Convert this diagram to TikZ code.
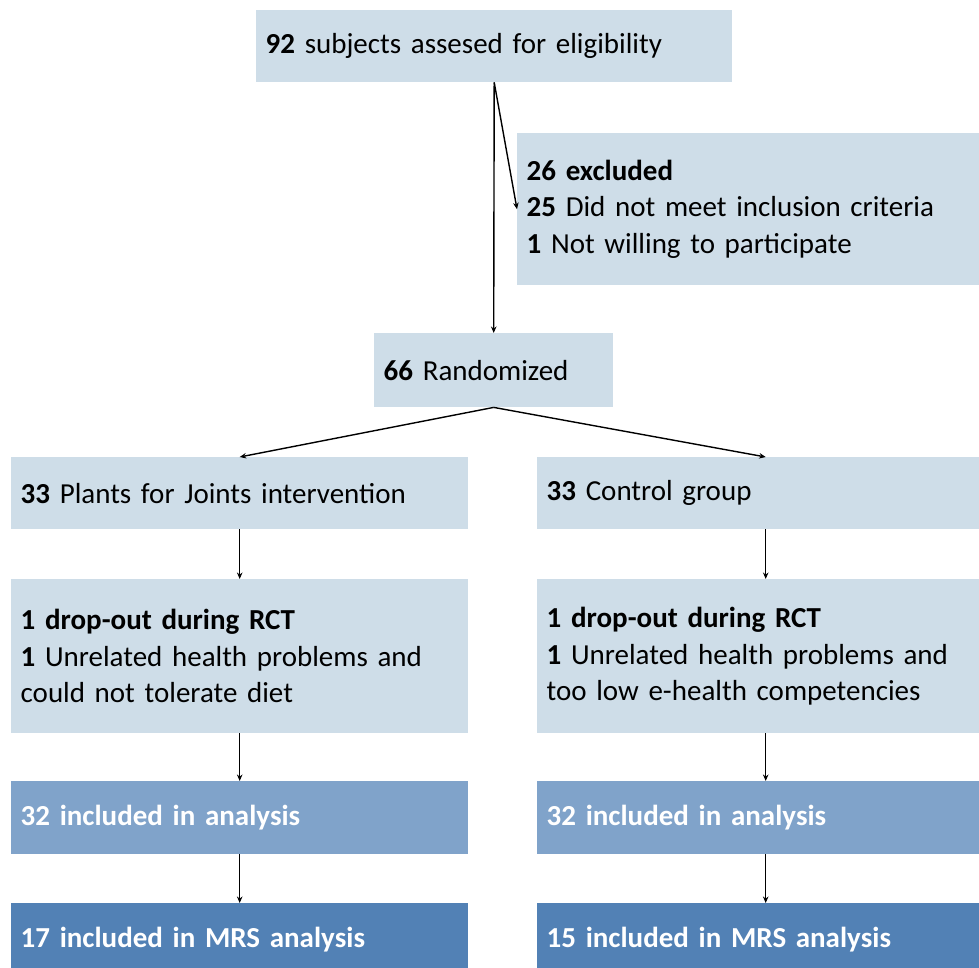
\documentclass[tikz,border=0pt]{standalone}
\usepackage{fontspec}
\setmainfont{Carlito}
\usepackage{tikz}
\usetikzlibrary{arrows.meta,positioning}
\definecolor{FlowLight}{HTML}{CEDDE8}
\definecolor{FlowMid}{HTML}{80A3CA}
\definecolor{FlowDark}{HTML}{5281B5}
\newcommand{\flowfont}{\fontsize{29}{36.5}\selectfont}
\tikzset{%
  lightbox/.style={fill=FlowLight,anchor=north west,align=left,
    inner xsep=9.5pt,inner ysep=0pt,font=\flowfont},
  midbox/.style={lightbox,fill=FlowMid,text=white,font=\flowfont\bfseries},
  darkbox/.style={lightbox,fill=FlowDark,text=white,font=\flowfont\bfseries},
  flow/.style={-{Stealth[length=6.5pt,width=5.5pt]},line width=1.4pt,black}
}
\begin{document}
\begin{tikzpicture}[x=1pt,y=-1pt]
      \useasboundingbox (0,0) rectangle (979,968);
      \clip (0,0) rectangle (979,968);
      \node[lightbox, text width=457pt, minimum height=72pt] (screen) at (256,10) {\textbf{92} subjects assesed for eligibility};
      \node[lightbox, text width=443pt, minimum height=152pt] (excl) at (517,133) {\textbf{26 excluded}\\\textbf{25} Did not meet inclusion criteria\\\textbf{1} Not willing to participate};
      \node[lightbox, text width=220pt, minimum height=74pt] (rand) at (374,333) {\textbf{66} Randomized};
      \node[lightbox, text width=438pt, minimum height=72pt] (armL) at (11,457) {\textbf{33} Plants for Joints intervention};
      \node[lightbox, text width=438pt, minimum height=72pt] (armR) at (537,457) {\textbf{33} Control group};
      \node[lightbox, text width=438pt, minimum height=154pt] (dropL) at (11,579) {\textbf{1 drop-out during RCT}\\\textbf{1} Unrelated health problems and\\could not tolerate diet};
      \node[lightbox, text width=438pt, minimum height=154pt] (dropR) at (537,579) {\textbf{1 drop-out during RCT}\\\textbf{1} Unrelated health problems and\\too low e-health competencies};
      \node[midbox, text width=438pt, minimum height=73pt] (anaL) at (11,781) {32 included in analysis};
      \node[midbox, text width=438pt, minimum height=73pt] (anaR) at (537,781) {32 included in analysis};
      \node[darkbox, text width=438pt, minimum height=73pt] (mrsL) at (11,903) {17 included in MRS analysis};
      \node[darkbox, text width=438pt, minimum height=73pt] (mrsR) at (537,903) {15 included in MRS analysis};
      \draw[flow] (screen.south) -- (rand.north);
      \draw[flow] (screen.south) -- (excl.west);
      \draw[flow] (rand.south) -- (armL.north);
      \draw[flow] (rand.south) -- (armR.north);
      \draw[flow] (armL) -- (dropL);
      \draw[flow] (armR) -- (dropR);
      \draw[flow] (dropL) -- (anaL);
      \draw[flow] (dropR) -- (anaR);
      \draw[flow] (anaL) -- (mrsL);
      \draw[flow] (anaR) -- (mrsR);
    \end{tikzpicture}
\end{document}
